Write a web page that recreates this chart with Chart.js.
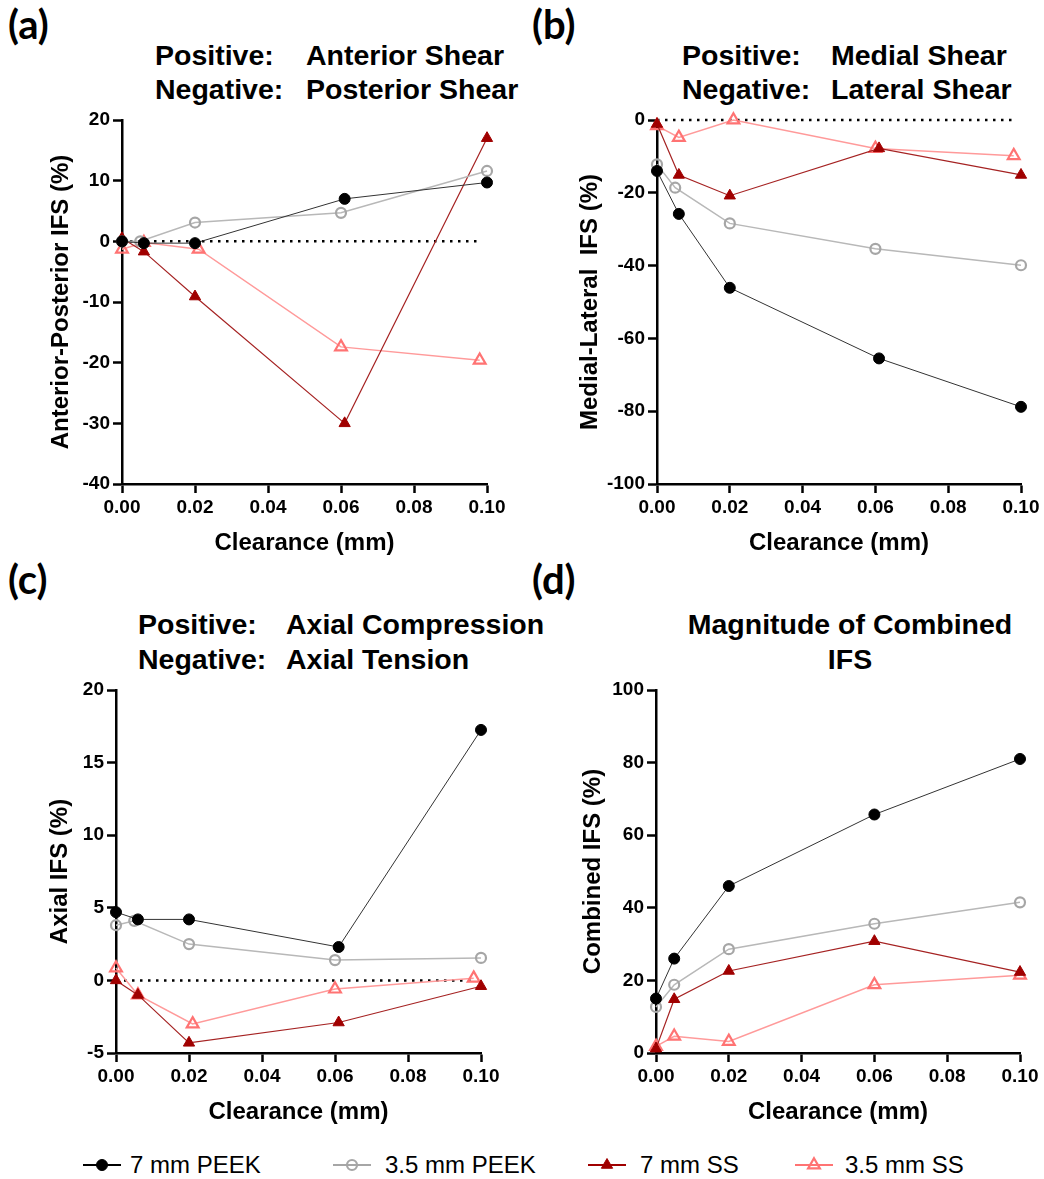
<!DOCTYPE html>
<html><head><meta charset="utf-8">
<script src="https://cdn.jsdelivr.net/npm/chart.js@4.4.0/dist/chart.umd.min.js"></script>
<style>
html,body{margin:0;padding:0;background:#fff;}
body{width:1044px;height:1179px;position:relative;overflow:hidden;font-family:'Liberation Sans',Arial,sans-serif;color:#000;}
canvas{position:absolute;}
.lab{position:absolute;font-family:Lato,'Open Sans',sans-serif;font-weight:bold;font-size:40px;line-height:40px;white-space:pre;}
.tt{position:absolute;font-weight:bold;font-size:28.5px;line-height:28px;white-space:pre;}
.leg{position:absolute;top:1153px;height:24px;font-size:24px;line-height:24px;white-space:pre;}
.legm{position:absolute;top:1155px;}
</style></head><body>
<div class="lab" style="left:8px;top:4px">(a)</div>
<div class="lab" style="left:532px;top:4px">(b)</div>
<div class="lab" style="left:8px;top:559px">(c)</div>
<div class="lab" style="left:532px;top:559px">(d)</div>

<div class="tt" style="left:155px;top:41px">Positive:</div>
<div class="tt" style="left:306px;top:41px">Anterior Shear</div>
<div class="tt" style="left:155px;top:75px">Negative:</div>
<div class="tt" style="left:306px;top:75px">Posterior Shear</div>

<div class="tt" style="left:682px;top:41px">Positive:</div>
<div class="tt" style="left:831px;top:41px">Medial Shear</div>
<div class="tt" style="left:682px;top:75px">Negative:</div>
<div class="tt" style="left:831px;top:75px">Lateral Shear</div>

<div class="tt" style="left:138px;top:610px">Positive:</div>
<div class="tt" style="left:286px;top:610px">Axial Compression</div>
<div class="tt" style="left:138px;top:645px">Negative:</div>
<div class="tt" style="left:286px;top:645px">Axial Tension</div>

<div class="tt" style="left:650px;width:400px;text-align:center;top:610px">Magnitude of Combined</div>
<div class="tt" style="left:650px;width:400px;text-align:center;top:645px">IFS</div>

<canvas id="cA" width="520" height="455" style="left:0px;top:105px"></canvas>
<canvas id="cB" width="514" height="455" style="left:530px;top:105px"></canvas>
<canvas id="cC" width="520" height="454" style="left:0px;top:675px"></canvas>
<canvas id="cD" width="514" height="454" style="left:530px;top:675px"></canvas>

<div id="legend"></div>

<script>
// ---------- data ----------
const seriesNames = ['7 mm PEEK', '3.5 mm PEEK', '7 mm SS', '3.5 mm SS'];

// clearance (mm) at which each series was plotted
const clearancePeek7 = [0, 0.006, 0.02, 0.061, 0.1];
const clearancePeek35 = [0, 0.005, 0.02, 0.06, 0.1];
const clearanceSS7 = [0, 0.006, 0.02, 0.061, 0.1];
const clearanceSS35 = [0, 0.006, 0.021, 0.06, 0.098];
const clearanceCombined = [0, 0.005, 0.02, 0.06, 0.1];

// (a) Anterior-Posterior IFS (%)
const apPeek7 = [0, -0.3, -0.3, 7.0, 9.7];
const apPeek35 = [0, 0, 3.1, 4.7, 11.6];
const apSS7 = [0.5, -1.7, -9.1, -30.0, 17.0];
const apSS35 = [-1.3, -0.2, -1.3, -17.4, -19.6];

// (b) Medial-Lateral IFS (%)
const mlPeek7 = [-14.0, -25.8, -46.1, -65.5, -78.8];
const mlPeek35 = [-12.2, -18.6, -28.4, -35.4, -39.9];
const mlSS7 = [-1.1, -15.1, -20.8, -7.8, -15.1];
const mlSS35 = [-1.6, -4.8, 0, -7.8, -9.8];

// (c) Axial IFS (%)
const axPeek7 = [4.7, 4.2, 4.2, 2.3, 17.25];
const axPeek35 = [3.8, 4.1, 2.5, 1.4, 1.55];
const axSS7 = [0, -1.0, -4.3, -2.9, -0.4];
const axSS35 = [0.85, -1.0, -3.0, -0.6, 0.15];

// (d) Combined IFS (%)
const cbPeek7 = [15.0, 26.0, 46.0, 65.7, 81.0];
const cbPeek35 = [12.7, 18.8, 28.6, 35.6, 41.5];
const cbSS7 = [1.2, 14.8, 22.6, 30.8, 22.3];
const cbSS35 = [1.8, 4.6, 3.2, 18.8, 21.4];

const xTickValues = [0, 0.02, 0.04, 0.06, 0.08, 0.1];
const zeroLineX = [0, 0.0985];

// ---------- styles ----------
const STY = [
  {pb: '#000000', pf: '#000000', line: '#333333', lw: 1, ps: 'circle', r: 5.5, pbw: 1},
  {pb: '#a6a6a6', pf: 'rgba(255,255,255,0)', line: '#b8b8b8', lw: 1.5, ps: 'circle', r: 5, pbw: 2.2},
  {pb: '#a00000', pf: '#a00000', line: '#a52222', lw: 1.2, ps: 'triangle', r: 6.5, pbw: 1},
  {pb: '#ff7373', pf: 'rgba(255,255,255,0)', line: '#ff9a9a', lw: 1.5, ps: 'triangle', r: 6.8, pbw: 2.2},
];

const FONT = "'Liberation Sans', Arial, sans-serif";
Chart.defaults.font.family = FONT;
Chart.defaults.color = '#000';

function pts(xs, ys) { return xs.map((x, i) => ({x: x, y: ys[i]})); }

function series(i, xs, ys) {
  const s = STY[i];
  return {
    label: seriesNames[i], data: pts(xs, ys),
    borderColor: s.line, borderWidth: s.lw, tension: 0,
    pointStyle: s.ps, pointRadius: s.r, pointHoverRadius: s.r,
    pointBackgroundColor: s.pf, pointBorderColor: s.pb, pointBorderWidth: s.pbw,
    clip: false, fill: false
  };
}

function makePanel(id, p) {
  const ds = [
    series(0, p.x[0], p.y[0]),
    series(1, p.x[1], p.y[1]),
    series(2, p.x[2], p.y[2]),
    series(3, p.x[3], p.y[3]),
  ];
  if (p.zero) {
    ds.push({
      label: 'zero', data: pts(zeroLineX, [0, 0]),
      borderColor: '#000', borderWidth: 2.5, borderDash: [2.5, 5.5],
      pointRadius: 0, tension: 0, clip: false, fill: false
    });
  }
  new Chart(document.getElementById(id), {
    type: 'line',
    data: {datasets: ds},
    options: {
      responsive: false, animation: false, devicePixelRatio: 1,
      layout: {padding: {left: 0, top: 15, right: p.padRight, bottom: 0}},
      plugins: {legend: {display: false}, tooltip: {enabled: false}, title: {display: false}},
      scales: {
        x: {
          type: 'linear', min: 0, max: 0.1,
          afterBuildTicks: (s) => { s.ticks = xTickValues.map(v => ({value: v})); },
          afterFit: (s) => { s.height = 76; },
          ticks: {color: '#000', font: {size: 19, weight: 'bold'}, padding: 3,
                  callback: (v) => Number(v).toFixed(2), maxRotation: 0, autoSkip: false},
          grid: {display: true, drawOnChartArea: false, drawTicks: true, tickLength: 9,
                 tickWidth: 2.5, tickColor: '#000'},
          border: {display: true, color: '#000', width: 2.5},
          title: {display: true, text: 'Clearance (mm)', color: '#000',
                  font: {size: 24, weight: 'bold'}, padding: {top: 0, bottom: 2.6}}
        },
        y: {
          type: 'linear', min: p.ymin, max: p.ymax,
          afterFit: (s) => { s.width = p.yW; },
          ticks: {stepSize: p.step, color: '#000', font: {size: 19, weight: 'bold'}, padding: 3},
          grid: {display: true, drawOnChartArea: false, drawTicks: true, tickLength: 9,
                 tickWidth: 2.5, tickColor: '#000'},
          border: {display: true, color: '#000', width: 2.5},
          title: {display: true, text: p.ytitle, color: '#000',
                  font: {size: 24, weight: 'bold'}, padding: {top: p.yTitlePad, bottom: 0}}
        }
      }
    }
  });
}

makePanel('cA', {
  x: [clearancePeek7, clearancePeek35, clearanceSS7, clearanceSS35],
  y: [apPeek7, apPeek35, apSS7, apSS35],
  ymin: -40, ymax: 20, step: 10, zero: true, yW: 122, padRight: 33, yTitlePad: 46.6,
  ytitle: 'Anterior-Posterior IFS (%)'
});
makePanel('cB', {
  x: [clearancePeek7, clearancePeek35, clearanceSS7, clearanceSS35],
  y: [mlPeek7, mlPeek35, mlSS7, mlSS35],
  ymin: -100, ymax: 0, step: 20, zero: true, yW: 127, padRight: 23, yTitlePad: 45.6,
  ytitle: 'Medial-Lateral  IFS (%)'
});
makePanel('cC', {
  x: [clearancePeek7, clearancePeek35, clearanceSS7, clearanceSS35],
  y: [axPeek7, axPeek35, axSS7, axSS35],
  ymin: -5, ymax: 20, step: 5, zero: true, yW: 116, padRight: 39, yTitlePad: 45.6,
  ytitle: 'Axial IFS (%)'
});
makePanel('cD', {
  x: [clearanceCombined, clearanceCombined, clearanceCombined, clearanceCombined],
  y: [cbPeek7, cbPeek35, cbSS7, cbSS35],
  ymin: 0, ymax: 100, step: 20, zero: false, yW: 126, padRight: 24, yTitlePad: 48.6,
  ytitle: 'Combined IFS (%)'
});

// ---------- legend ----------
const legendMarkerX = [83, 333, 588, 795];
const legendTextX = [130, 385, 640, 845];
(function () {
  const host = document.getElementById('legend');
  let html = '';
  seriesNames.forEach((name, i) => {
    const s = STY[i];
    let mk;
    if (s.ps === 'circle') {
      mk = `<circle cx="19" cy="10" r="${s.r}" fill="${s.pf}" stroke="${s.pb}" stroke-width="${s.pbw}"/>`;
    } else {
      const r = s.r, h = r * Math.sqrt(3) / 2;
      mk = `<polygon points="19,${10 - r} ${19 + h},${10 + r / 2} ${19 - h},${10 + r / 2}" fill="${s.pf}" stroke="${s.pb}" stroke-width="${s.pbw}"/>`;
    }
    html += `<svg class="legm" style="left:${legendMarkerX[i]}px" width="38" height="20">` +
      `<line x1="0" y1="10" x2="38" y2="10" stroke="${s.pb}" stroke-width="2"/>${mk}</svg>`;
    html += `<div class="leg" style="left:${legendTextX[i]}px">${name}</div>`;
  });
  host.innerHTML = html;
})();
</script>
</body></html>
